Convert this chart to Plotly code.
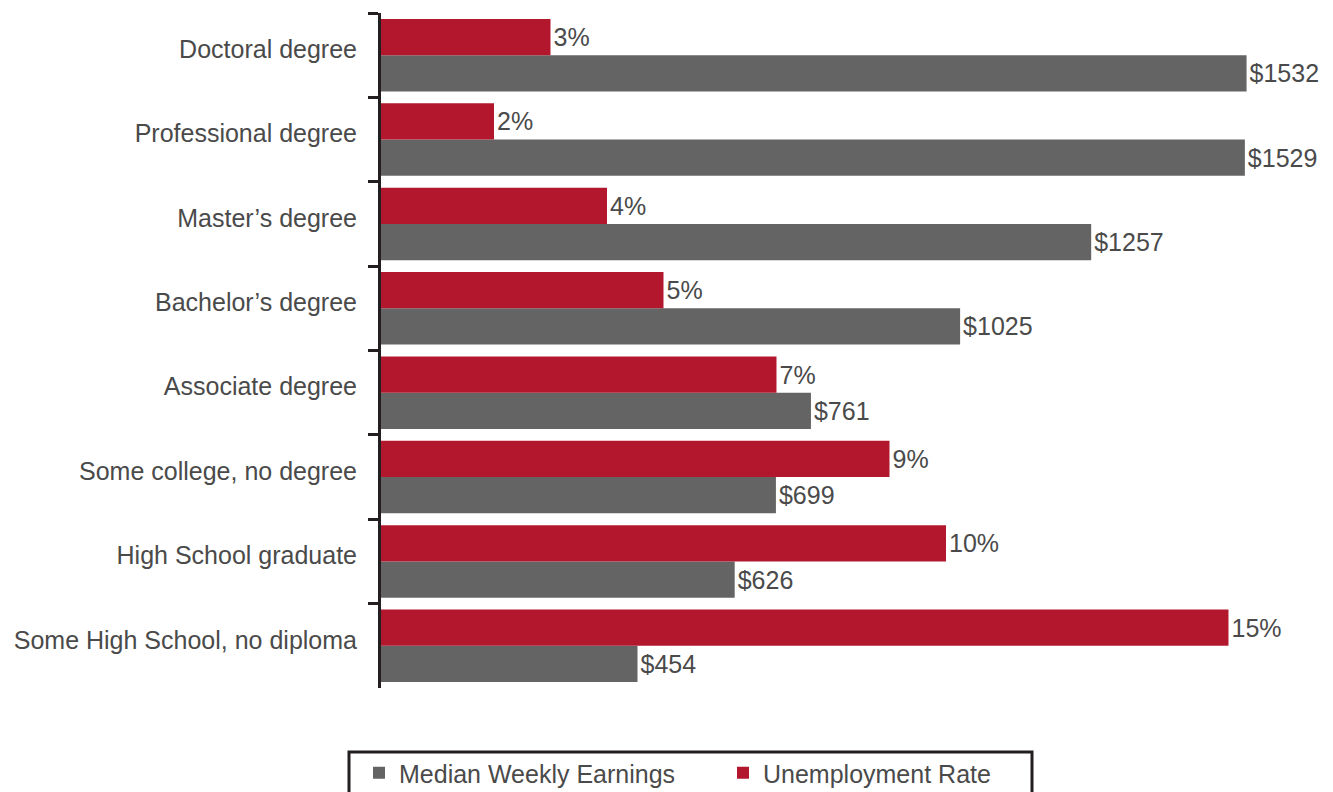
import plotly.graph_objects as go

categories = ["Doctoral degree", "Professional degree", "Master\u2019s degree", "Bachelor\u2019s degree",
              "Associate degree", "Some college, no degree", "High School graduate",
              "Some High School, no diploma"]
earnings = [1532, 1529, 1257, 1025, 761, 699, 626, 454]
unemployment = [3, 2, 4, 5, 7, 9, 10, 15]

RED = "#B2172E"
GRAY = "#646464"
DARK = "#231F20"
TXT = "#4a4a4a"
FONT = "Liberation Sans, Arial, sans-serif"
FS = 25

# page body has an 8px margin, so figure coordinates = window coordinates - 8
W, H = 1325, 784
L, T, B = 373, 5, 104
PW, PH = W - L, H - T - B
XMAX = 1685  # dollars across the plot width (1% unemployment drawn as $100)

fig = go.Figure()
fig.add_trace(go.Bar(
    y=categories, x=earnings, orientation="h", name="Median Weekly Earnings",
    marker=dict(color=GRAY, line=dict(width=0)), xaxis="x",
    width=0.43, offset=0.0,
    text=[f"${v}" for v in earnings], textposition="outside", cliponaxis=False,
    constraintext="none", textfont=dict(size=FS, color=TXT, family=FONT),
))
fig.add_trace(go.Bar(
    y=categories, x=unemployment, orientation="h", name="Unemployment Rate",
    marker=dict(color=RED, line=dict(width=0)), xaxis="x2",
    width=0.43, offset=-0.43,
    text=[f"{v}%" for v in unemployment], textposition="outside", cliponaxis=False,
    constraintext="none", textfont=dict(size=FS, color=TXT, family=FONT),
))

fig.update_layout(
    width=W, height=H,
    margin=dict(l=L, r=0, t=T, b=B, autoexpand=False),
    paper_bgcolor="white", plot_bgcolor="white",
    barmode="overlay",
    showlegend=True,
    hovermode=False,
    font=dict(family=FONT, size=FS, color=TXT),
    xaxis=dict(range=[0, XMAX], visible=False, fixedrange=True),
    xaxis2=dict(range=[0, XMAX / 100], visible=False, overlaying="x", fixedrange=True),
    yaxis=dict(range=[7.5, -0.5], showline=True, linewidth=3, linecolor=DARK,
               ticks="outside", tickson="boundaries", ticklen=10, tickwidth=3,
               tickcolor=DARK, showgrid=False, zeroline=False, ticklabelstandoff=16,
               ticklabelshift=6, automargin=False,
               tickfont=dict(size=FS, color=TXT, family=FONT), fixedrange=True),
    legend=dict(orientation="h", traceorder="normal",
                xref="container", x=351/W, xanchor="left",
                yref="container", y=1 - 742/H, yanchor="top",
                font=dict(size=FS, color=TXT, family=FONT),
                entrywidth=319, entrywidthmode="pixels",
                bgcolor="rgba(0,0,0,0)", borderwidth=0),
    shapes=[dict(type="rect", xref="paper", yref="paper",
                 x0=-32/PW, x1=651/PW, y0=-(744 - (H - B)) / PH, y1=-(830 - (H - B)) / PH,
                 line=dict(color=DARK, width=3), fillcolor="rgba(0,0,0,0)")],
)

fig.write_html("out.html")
